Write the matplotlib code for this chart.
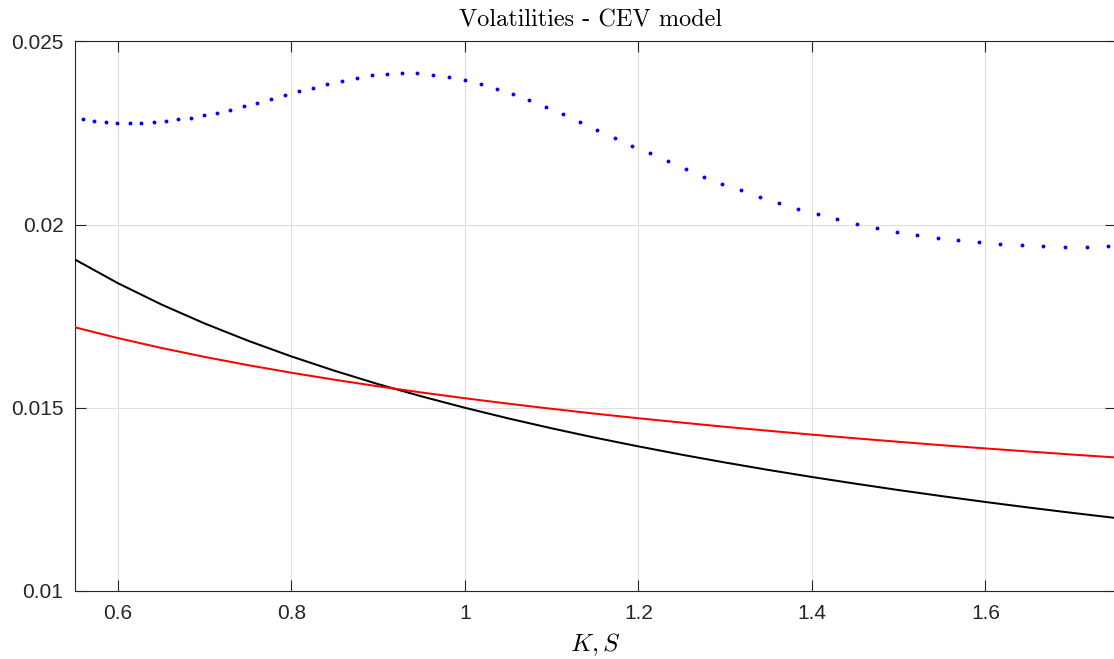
import numpy as np
import matplotlib
matplotlib.use("Agg")
import matplotlib.pyplot as plt

# Strike / spot grid for the smooth curves
k_grid = [0.55, 0.60, 0.65, 0.70, 0.75, 0.80, 0.85, 0.90, 0.95, 1.00,
          1.05, 1.10, 1.15, 1.20, 1.25, 1.30, 1.35, 1.40, 1.45, 1.50,
          1.55, 1.60, 1.65, 1.70, 1.75]

# Local volatility (black)
local_vol = [0.019052, 0.018400, 0.017820, 0.017300, 0.016830, 0.016401,
             0.016008, 0.015645, 0.015311, 0.015000, 0.014710, 0.014439,
             0.014184, 0.013946, 0.013719, 0.013506, 0.013303, 0.013111,
             0.012929, 0.012754, 0.012588, 0.012429, 0.012277, 0.012132,
             0.011993]

# Implied volatility (red)
implied_vol = [0.017198, 0.016902, 0.016633, 0.016388, 0.016163, 0.015956,
               0.015764, 0.015585, 0.015417, 0.015260, 0.015112, 0.014972,
               0.014839, 0.014714, 0.014595, 0.014480, 0.014372, 0.014267,
               0.014167, 0.014071, 0.013978, 0.013891, 0.013806, 0.013723,
               0.013644]

# Numerically recovered volatility (blue dots)
k_num = [0.5597, 0.5727, 0.5862, 0.5995, 0.6134, 0.6272, 0.6415, 0.6556,
         0.6698, 0.6848, 0.6994, 0.7144, 0.7297, 0.7452, 0.7608, 0.7766,
         0.7927, 0.8085, 0.8250, 0.8415, 0.8584, 0.8753, 0.8926, 0.9099,
         0.9272, 0.9452, 0.9632, 0.9817, 0.9998, 1.0182, 1.0366, 1.0554,
         1.0742, 1.0934, 1.1130, 1.1326, 1.1525, 1.1726, 1.1925, 1.2129,
         1.2336, 1.2544, 1.2755, 1.2965, 1.3181, 1.3400, 1.3619, 1.3841,
         1.4065, 1.4290, 1.4517, 1.4748, 1.4978, 1.5212, 1.5450, 1.5689,
         1.5931, 1.6173, 1.6418, 1.6664, 1.6914, 1.7167, 1.7417]
num_vol = [0.022869, 0.022822, 0.022795, 0.022776, 0.022776, 0.022776,
           0.022795, 0.022822, 0.022869, 0.022913, 0.022978, 0.023049,
           0.023131, 0.023224, 0.023322, 0.023423, 0.023533, 0.023634,
           0.023732, 0.023842, 0.023923, 0.024005, 0.024071, 0.024107,
           0.024126, 0.024126, 0.024093, 0.024038, 0.023951, 0.023842,
           0.023705, 0.023560, 0.023388, 0.023197, 0.023005, 0.022795,
           0.022585, 0.022366, 0.022148, 0.021940, 0.021721, 0.021519,
           0.021311, 0.021120, 0.020937, 0.020754, 0.020590, 0.020426,
           0.020290, 0.020153, 0.020027, 0.019907, 0.019809, 0.019716,
           0.019634, 0.019571, 0.019516, 0.019470, 0.019434, 0.019407,
           0.019399, 0.019399, 0.019415]

x_ticks = [0.6, 0.8, 1.0, 1.2, 1.4, 1.6]
x_tick_labels = ["0.6", "0.8", "1", "1.2", "1.4", "1.6"]
y_ticks = [0.01, 0.015, 0.02, 0.025]
y_tick_labels = ["0.01", "0.015", "0.02", "0.025"]

plt.rcParams["mathtext.fontset"] = "cm"
plt.rcParams["axes.unicode_minus"] = False
axis_gray = "#262626"

fig = plt.figure(figsize=(11.14, 6.59), dpi=100)
ax = fig.add_axes([0.0669, 0.1032, 0.9345, 0.8341])

ax.plot(k_grid, local_vol, color="black", lw=1.45, zorder=3)
ax.plot(k_grid, implied_vol, color="red", lw=1.45, zorder=3)
ax.plot(k_num, num_vol, linestyle="none", marker="o", ms=2.8,
        color="blue", markeredgewidth=0, zorder=4)

ax.set_xlim(0.55, 1.75)
ax.set_ylim(0.01, 0.025)
ax.set_xticks(x_ticks)
ax.set_xticklabels(x_tick_labels)
ax.set_yticks(y_ticks)
ax.set_yticklabels(y_tick_labels)

ax.grid(True, color="#dfdfdf", lw=0.8, zorder=0)
ax.set_axisbelow(True)
for s in ax.spines.values():
    s.set_color(axis_gray)
    s.set_linewidth(0.8)

ax.tick_params(axis="both", direction="in", length=8, width=0.8,
               color=axis_gray, labelcolor=axis_gray, top=True, right=True,
               labelsize=15)
for lab in ax.get_xticklabels() + ax.get_yticklabels():
    lab.set_family("Liberation Sans")
ax.tick_params(axis="x", pad=9.5)
ax.tick_params(axis="y", pad=8)

ax.set_title("Volatilities - CEV model", fontsize=17.5, family="cmr10",
             color="black", pad=10.5, x=0.4957)
ax.set_xlabel(r"$K, S$", fontsize=18, color="black", labelpad=6)

fig.savefig("out.png", dpi=100)
